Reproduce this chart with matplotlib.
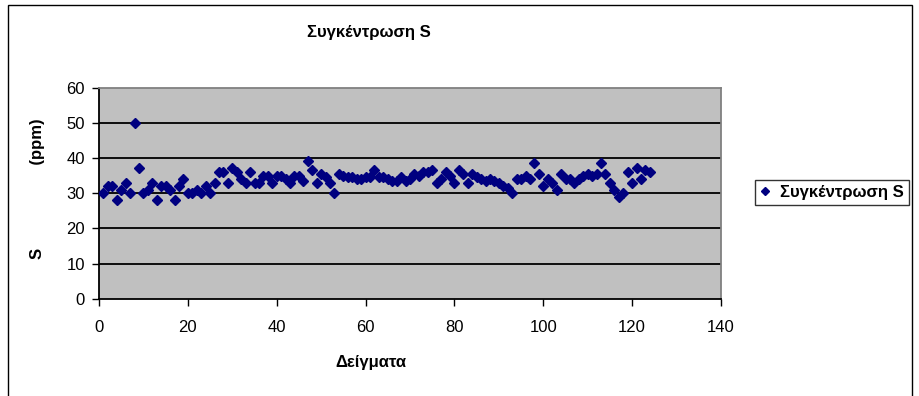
import matplotlib
matplotlib.use("Agg")
import matplotlib.pyplot as plt
from matplotlib.patches import Rectangle
import numpy as np

plt.rcParams['font.family'] = ['Liberation Sans', 'DejaVu Sans']

# samples 1..124, sulphur concentration in ppm
samples = np.arange(1, 125)
conc_s = [
    30, 32, 32, 28, 31, 33, 30, 50, 37, 30,
    31, 33, 28, 32, 32, 31, 28, 32, 34, 30,
    30, 31, 30, 32, 30, 33, 36, 36, 33, 37,
    36, 34, 33, 36, 33, 33, 35, 35, 33, 35,
    35, 34, 33, 35, 35, 33.5, 39, 36.5, 33, 35.5,
    34.5, 33, 30, 35.5, 35, 34.5, 34.5, 34, 34, 34.5,
    34.5, 36.5, 34.5, 34.5, 34, 33.5, 33.5, 34.5, 33.5, 34,
    35.5, 35, 36, 36, 36.5, 33, 34, 36, 35, 33,
    36.5, 35.5, 33, 35.5, 34.5, 34, 33.5, 34, 33.5, 33,
    32, 31.5, 30, 34, 34, 35, 34, 38.5, 35.5, 32,
    34, 33, 31, 35.5, 34, 34, 33, 34, 35, 35.5,
    35, 35.5, 38.5, 35.5, 33, 31, 29, 30, 36, 33,
    37, 34, 36.5, 36,
]

title = "Συγκέντρωση S"
xlab = "Δείγματα"
ylab = "S                  (ppm)"
xticks = [0, 20, 40, 60, 80, 100, 120, 140]
yticks = [0, 10, 20, 30, 40, 50, 60]

W, H = 919, 396
fig = plt.figure(figsize=(W / 100, H / 100), dpi=100)
fig.patch.set_facecolor('white')

# chart frame
fig.patches.append(Rectangle((8 / W, -0.01), 904 / W, 1 - 5 / H + 0.01,
                             transform=fig.transFigure, fill=False,
                             edgecolor='black', lw=1.0))

ax = fig.add_axes([99 / W, 1 - 298.7 / H, 622 / W, 211.2 / H])
ax.set_facecolor('#C0C0C0')

ax.plot(samples, conc_s, linestyle='none', marker='D', markersize=5.3,
        color='#000080', label=title, zorder=3)

ax.set_xlim(0, 140)
ax.set_ylim(0, 60)
ax.set_xticks(xticks)
ax.set_yticks(yticks)
for y in yticks[1:-1]:
    ax.axhline(y, color='black', lw=1.3, zorder=1)

ax.spines['left'].set_color('black')
ax.spines['bottom'].set_color('black')
ax.spines['top'].set_color('#808080')
ax.spines['right'].set_color('#808080')
for s in ax.spines.values():
    s.set_linewidth(1.3)

ax.tick_params(axis='both', direction='out', length=5, width=1,
               labelsize=12, colors='black')
ax.tick_params(axis='x', pad=10)
ax.tick_params(axis='y', pad=5)

ax.set_xlabel(xlab, fontsize=12, fontweight='bold')
ax.xaxis.set_label_coords((371 - 99) / 622, -(355 - 298.7) / 211.2)
ax.set_ylabel(ylab, fontsize=12, fontweight='bold')
ax.yaxis.set_label_coords(-(99 - 45) / 622, 0.52)

fig.text(369 / W, 1 - 32 / H, title, ha='center', va='center',
         fontsize=12, fontweight='bold')

leg = fig.legend(loc='center left', bbox_to_anchor=(755 / W, 1 - 192 / H),
                 fontsize=12, frameon=True, fancybox=False, borderpad=0.3,
                 borderaxespad=0, handlelength=0.6, handletextpad=0.6,
                 markerscale=0.8)
leg.get_frame().set_edgecolor('black')
leg.get_frame().set_linewidth(1.0)
for t in leg.get_texts():
    t.set_fontweight('bold')

fig.savefig('out.png', dpi=100)
